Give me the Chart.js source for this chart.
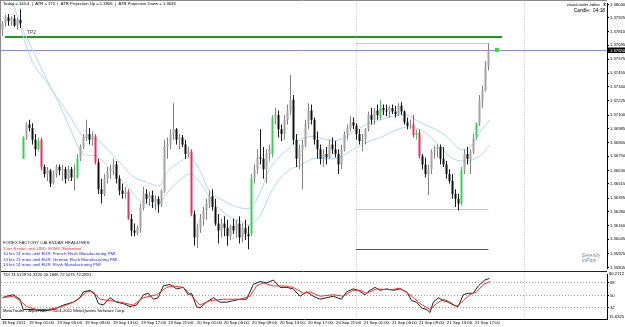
<!DOCTYPE html>
<html>
<head>
<meta charset="utf-8">
<title>EURUSD 18-21 Sep 2011</title>
<script src="https://cdn.jsdelivr.net/npm/chart.js@4.4.1/dist/chart.umd.min.js"></script>
<style>
  html, body { margin: 0; padding: 0; background: #fff; }
  #wrap { position: relative; width: 625px; height: 327px; overflow: hidden; background: #fff; }
  #mainChart { position: absolute; left: 0; top: 0; }
  #tdiChart { position: absolute; left: 0; top: 271px; }
</style>
</head>
<body>
<div id="wrap">
  <canvas id="mainChart" width="625" height="272"></canvas>
  <canvas id="tdiChart" width="625" height="56"></canvas>
</div>
<script>
// candles (one bar per slot)
const opens = [
  1.3783, 1.3788, 1.3793, 1.3790, 1.3792, 1.3786, 1.3791,
  1.3673, 1.3691, 1.3702, 1.3699, 1.3689, 1.3681, 1.3689,
  1.3666, 1.3660, 1.3663, 1.3652, 1.3660, 1.3666, 1.3663,
  1.3664, 1.3656, 1.3664, 1.3657, 1.3657, 1.3673, 1.3683,
  1.3691, 1.3694, 1.3689, 1.3692, 1.3670, 1.3647, 1.3643,
  1.3656, 1.3663, 1.3664, 1.3668, 1.3656, 1.3646, 1.3643,
  1.3645, 1.3622, 1.3612, 1.3610, 1.3614, 1.3631, 1.3643,
  1.3639, 1.3642, 1.3636, 1.3639, 1.3634, 1.3646, 1.3683,
  1.3685, 1.3694, 1.3698, 1.3689, 1.3691, 1.3685, 1.3677,
  1.3679, 1.3626, 1.3606, 1.3614, 1.3622, 1.3629, 1.3635,
  1.3641, 1.3632, 1.3618, 1.3612, 1.3618, 1.3614, 1.3607,
  1.3616, 1.3612, 1.3618, 1.3606, 1.3614, 1.3609, 1.3609,
  1.3656, 1.3664, 1.3674, 1.3673, 1.3664, 1.3677, 1.3677,
  1.3708, 1.3710, 1.3698, 1.3694, 1.3706, 1.3714, 1.3723,
  1.3689, 1.3673, 1.3681, 1.3685, 1.3702, 1.3714, 1.3706,
  1.3689, 1.3681, 1.3673, 1.3677, 1.3674, 1.3685, 1.3681,
  1.3677, 1.3668, 1.3681, 1.3694, 1.3699, 1.3704, 1.3701,
  1.3694, 1.3688, 1.3689, 1.3698, 1.3710, 1.3706, 1.3714,
  1.3708, 1.3716, 1.3714, 1.3713, 1.3716, 1.3713, 1.3711,
  1.3718, 1.3713, 1.3704, 1.3701, 1.3702, 1.3693, 1.3695,
  1.3675, 1.3668, 1.3660, 1.3664, 1.3679, 1.3681, 1.3683,
  1.3673, 1.3668, 1.3660, 1.3654, 1.3643, 1.3639, 1.3635,
  1.3663, 1.3677, 1.3673, 1.3679, 1.3691, 1.3703, 1.3723,
  1.3731, 1.3752
];
const highs = [
  1.3790, 1.3795, 1.3796, 1.3794, 1.3795, 1.3793, 1.3800,
  1.3692, 1.3704, 1.3706, 1.3703, 1.3694, 1.3691, 1.3691,
  1.3668, 1.3666, 1.3664, 1.3663, 1.3668, 1.3668, 1.3668,
  1.3666, 1.3667, 1.3666, 1.3668, 1.3677, 1.3685, 1.3694,
  1.3706, 1.3699, 1.3696, 1.3694, 1.3673, 1.3656, 1.3660,
  1.3666, 1.3668, 1.3673, 1.3671, 1.3659, 1.3652, 1.3649,
  1.3647, 1.3626, 1.3618, 1.3616, 1.3635, 1.3649, 1.3647,
  1.3645, 1.3646, 1.3642, 1.3641, 1.3647, 1.3689, 1.3691,
  1.3698, 1.3720, 1.3699, 1.3694, 1.3693, 1.3689, 1.3683,
  1.3681, 1.3629, 1.3618, 1.3626, 1.3632, 1.3639, 1.3646,
  1.3647, 1.3639, 1.3626, 1.3622, 1.3624, 1.3621, 1.3617,
  1.3622, 1.3621, 1.3624, 1.3618, 1.3621, 1.3616, 1.3660,
  1.3668, 1.3681, 1.3698, 1.3683, 1.3681, 1.3685, 1.3710,
  1.3716, 1.3714, 1.3702, 1.3710, 1.3719, 1.3744, 1.3727,
  1.3694, 1.3685, 1.3689, 1.3706, 1.3720, 1.3719, 1.3708,
  1.3696, 1.3685, 1.3681, 1.3683, 1.3689, 1.3691, 1.3688,
  1.3681, 1.3685, 1.3696, 1.3702, 1.3709, 1.3708, 1.3703,
  1.3698, 1.3694, 1.3699, 1.3713, 1.3716, 1.3716, 1.3719,
  1.3723, 1.3719, 1.3719, 1.3718, 1.3719, 1.3718, 1.3720,
  1.3721, 1.3714, 1.3708, 1.3706, 1.3710, 1.3698, 1.3698,
  1.3677, 1.3674, 1.3668, 1.3681, 1.3684, 1.3685, 1.3685,
  1.3683, 1.3671, 1.3664, 1.3660, 1.3647, 1.3643, 1.3666,
  1.3681, 1.3683, 1.3681, 1.3694, 1.3704, 1.3727, 1.3735,
  1.3756, 1.3771
];
const lows = [
  1.3777, 1.3785, 1.3786, 1.3786, 1.3785, 1.3783, 1.3784,
  1.3673, 1.3689, 1.3696, 1.3685, 1.3675, 1.3679, 1.3663,
  1.3657, 1.3654, 1.3649, 1.3651, 1.3657, 1.3659, 1.3654,
  1.3652, 1.3654, 1.3654, 1.3646, 1.3656, 1.3671, 1.3681,
  1.3688, 1.3685, 1.3684, 1.3668, 1.3643, 1.3635, 1.3641,
  1.3652, 1.3656, 1.3659, 1.3652, 1.3642, 1.3639, 1.3639,
  1.3621, 1.3607, 1.3607, 1.3608, 1.3610, 1.3629, 1.3635,
  1.3633, 1.3631, 1.3629, 1.3627, 1.3632, 1.3644, 1.3673,
  1.3681, 1.3689, 1.3685, 1.3681, 1.3683, 1.3673, 1.3674,
  1.3624, 1.3599, 1.3597, 1.3610, 1.3616, 1.3621, 1.3631,
  1.3629, 1.3616, 1.3601, 1.3606, 1.3607, 1.3599, 1.3604,
  1.3609, 1.3606, 1.3601, 1.3602, 1.3604, 1.3596, 1.3607,
  1.3652, 1.3660, 1.3668, 1.3656, 1.3652, 1.3671, 1.3674,
  1.3702, 1.3691, 1.3688, 1.3689, 1.3702, 1.3710, 1.3685,
  1.3666, 1.3664, 1.3647, 1.3683, 1.3698, 1.3702, 1.3685,
  1.3673, 1.3668, 1.3666, 1.3668, 1.3673, 1.3677, 1.3674,
  1.3660, 1.3664, 1.3679, 1.3689, 1.3696, 1.3698, 1.3689,
  1.3685, 1.3679, 1.3685, 1.3696, 1.3702, 1.3702, 1.3706,
  1.3706, 1.3710, 1.3709, 1.3708, 1.3711, 1.3708, 1.3709,
  1.3710, 1.3702, 1.3698, 1.3698, 1.3691, 1.3689, 1.3673,
  1.3664, 1.3657, 1.3642, 1.3660, 1.3673, 1.3674, 1.3668,
  1.3666, 1.3656, 1.3652, 1.3639, 1.3632, 1.3629, 1.3633,
  1.3660, 1.3668, 1.3660, 1.3677, 1.3689, 1.3701, 1.3716,
  1.3730, 1.3748
];
const closes = [
  1.3788, 1.3793, 1.3790, 1.3792, 1.3786, 1.3791, 1.3788,
  1.3691, 1.3702, 1.3699, 1.3689, 1.3681, 1.3688, 1.3666,
  1.3660, 1.3663, 1.3652, 1.3660, 1.3666, 1.3663, 1.3664,
  1.3656, 1.3664, 1.3657, 1.3659, 1.3673, 1.3683, 1.3691,
  1.3694, 1.3689, 1.3693, 1.3670, 1.3647, 1.3643, 1.3656,
  1.3663, 1.3664, 1.3668, 1.3656, 1.3646, 1.3643, 1.3645,
  1.3622, 1.3612, 1.3610, 1.3614, 1.3631, 1.3643, 1.3639,
  1.3642, 1.3636, 1.3639, 1.3634, 1.3646, 1.3683, 1.3685,
  1.3694, 1.3698, 1.3689, 1.3691, 1.3685, 1.3677, 1.3679,
  1.3626, 1.3606, 1.3614, 1.3622, 1.3629, 1.3635, 1.3641,
  1.3632, 1.3618, 1.3612, 1.3618, 1.3614, 1.3607, 1.3616,
  1.3612, 1.3618, 1.3606, 1.3614, 1.3609, 1.3607, 1.3656,
  1.3664, 1.3674, 1.3673, 1.3664, 1.3677, 1.3681, 1.3708,
  1.3710, 1.3698, 1.3694, 1.3706, 1.3714, 1.3723, 1.3689,
  1.3673, 1.3681, 1.3685, 1.3702, 1.3714, 1.3706, 1.3689,
  1.3681, 1.3673, 1.3677, 1.3674, 1.3685, 1.3681, 1.3677,
  1.3668, 1.3681, 1.3694, 1.3699, 1.3704, 1.3701, 1.3694,
  1.3688, 1.3689, 1.3698, 1.3710, 1.3706, 1.3714, 1.3710,
  1.3716, 1.3714, 1.3713, 1.3716, 1.3713, 1.3711, 1.3718,
  1.3713, 1.3704, 1.3701, 1.3702, 1.3693, 1.3695, 1.3675,
  1.3668, 1.3660, 1.3664, 1.3679, 1.3681, 1.3683, 1.3673,
  1.3668, 1.3660, 1.3654, 1.3643, 1.3639, 1.3635, 1.3663,
  1.3677, 1.3673, 1.3679, 1.3691, 1.3703, 1.3723, 1.3731,
  1.3752, 1.3765
];
// bars painted by the signal indicator
const upSignals = [7, 12, 25, 83, 90, 126, 138, 153, 158];
const downSignals = [13, 31, 42, 63, 137, 139];

// light blue channel lines: [bar, price]
const upperBand = [
  [3.5, 1.3806], [9.8, 1.3756], [14.2, 1.3740], [18.2, 1.3725], [22.5, 1.3709], [26.8, 1.3692],
  [31.5, 1.3689], [35, 1.3681], [39, 1.3670], [43.5, 1.3658], [48, 1.3653], [52.5, 1.3650],
  [55, 1.3662], [59, 1.3670], [62.5, 1.3674], [66, 1.3662], [69, 1.3645], [72.5, 1.3639],
  [77, 1.3633], [82.5, 1.3631], [86, 1.3645], [89, 1.3664], [92.5, 1.3675], [96, 1.3683],
  [99, 1.3689], [103.5, 1.3692], [108, 1.3689], [112.5, 1.3689], [117, 1.3696], [121.5, 1.3702],
  [126, 1.3706], [130, 1.3709], [134.8, 1.3710], [139, 1.3704], [143.5, 1.3699], [148, 1.3692],
  [152.5, 1.3681], [156, 1.3683], [159, 1.3695], [162.5, 1.3706]
];
const lowerBand = [
  [6.5, 1.3784], [11.8, 1.3756], [15.8, 1.3735], [19.2, 1.3718], [22.5, 1.3699], [26.8, 1.3677],
  [31.5, 1.3675], [36, 1.3664], [41.5, 1.3650], [46, 1.3637], [51.5, 1.3633], [53.5, 1.3639],
  [57, 1.3650], [62.5, 1.3660], [66, 1.3652], [70, 1.3637], [74.8, 1.3625], [79, 1.3620],
  [82.5, 1.3617], [86, 1.3625], [89, 1.3642], [92.5, 1.3656], [96, 1.3664], [99, 1.3667],
  [103.5, 1.3673], [108, 1.3673], [112.5, 1.3674], [117, 1.3681], [121.5, 1.3687], [126, 1.3691],
  [130, 1.3696], [134.8, 1.3700], [138, 1.3699], [141.5, 1.3694], [146, 1.3683], [150, 1.3673],
  [154.8, 1.3671], [159, 1.3675], [162.5, 1.3685]
];

// TDI sub-window: [bar, value]
const tdiPrice = [
  [0, 46.6], [1.4, 48.7], [3.6, 50.9], [5.8, 44.4], [6.9, 29.4], [10.3, 29.4], [13.6, 27.3],
  [17, 29.4], [20.3, 35.9], [23.6, 40.1], [25.8, 46.6], [27, 55.1], [29.2, 57.3], [30.8, 50.9],
  [32, 38], [33.6, 35.9], [35.8, 46.6], [38, 40.1], [40.3, 38], [42.5, 33.7], [44.7, 35.9],
  [47, 50.9], [48.6, 53], [50.3, 44.4], [51.9, 46.6], [53.6, 63.7], [55.8, 65.9], [58, 59.4],
  [60.3, 61.6], [61.9, 50.9], [63, 53], [64.7, 33.7], [65.8, 31.6], [68, 40.1], [70.3, 46.6],
  [72.5, 40.1], [74.7, 40.1], [77, 42.3], [79.2, 44.4], [81.4, 44.4], [83.6, 65.9], [85.8, 70.1],
  [88, 68], [90.3, 72.3], [92.5, 61.6], [94.7, 61.6], [96.9, 59.4], [99.2, 48.7], [101.4, 55.1],
  [103.6, 48.7], [105.8, 44.4], [108.1, 46.6], [110.3, 48.7], [113, 44.4], [114.7, 55.1],
  [116.9, 59.4], [118.6, 57.3], [120.8, 50.9], [122.5, 57.3], [124.2, 61.6], [125.8, 57.3],
  [128.1, 59.4], [130.3, 57.3], [132.5, 59.4], [134.7, 55.1], [136.4, 42.3], [138, 40.1],
  [139.7, 31.6], [141.4, 29.4], [142.5, 25.1], [143.6, 40.1], [145.3, 46.6], [146.9, 42.3],
  [148.6, 40.1], [150.3, 35.9], [151.9, 33.7], [153.6, 50.9], [155.3, 53], [156.9, 53],
  [158.6, 63.7], [160.8, 72.3], [162.3, 74.5]
];
const tdiSignal = [
  [0, 46.6], [3.6, 48.7], [5.8, 42.3], [8.1, 33.7], [11.4, 29.4], [14.7, 29.4], [18.1, 31.6],
  [21.4, 35.9], [24.7, 42.3], [28.1, 55.1], [30.3, 55.1], [32.5, 44.4], [35.8, 42.3], [39.2, 40.1],
  [43.6, 35.9], [47, 46.6], [51.4, 50.9], [54.7, 61.6], [56.9, 63.7], [60.3, 61.6], [63.6, 46.6],
  [65.8, 35.9], [69.2, 42.3], [73.6, 44.4], [79.2, 44.4], [82.5, 48.7], [84.7, 63.7], [86.9, 68],
  [90.3, 63.7], [93.6, 63.7], [96.9, 61.6], [100.3, 53], [102.5, 55.1], [105.8, 48.7], [110.3, 50.9],
  [113.6, 48.7], [116.9, 57.3], [119.2, 57.3], [121.4, 53], [124.7, 59.4], [129.2, 58.1],
  [132.5, 60.3], [135.8, 50.9], [139.2, 38], [142.5, 29.4], [144.7, 38], [147, 44.4], [149.2, 40.1],
  [151.4, 33.7], [153.6, 42.3], [155.8, 50.9], [158.1, 55.1], [160.3, 65.9], [162.5, 70.1]
];

const priceTicks = [1.38040, 1.37925, 1.37810, 1.37695, 1.37575, 1.37455, 1.37340, 1.37225,
  1.37100, 1.36985, 1.36865, 1.36750, 1.36630, 1.36515, 1.36395, 1.36280, 1.36160, 1.36045,
  1.35925, 1.35805];
const tdiLevels = [68, 50, 32];
const tdiRange = [15.6325, 80.2712];
const timeLabels = ['18 Sep 2011', '19 Sep 01:00', '19 Sep 05:00', '19 Sep 09:00', '19 Sep 13:00',
  '19 Sep 17:00', '19 Sep 21:00', '20 Sep 01:00', '20 Sep 05:00', '20 Sep 09:00', '20 Sep 13:00',
  '20 Sep 17:00', '20 Sep 21:00', '21 Sep 01:00', '21 Sep 05:00', '21 Sep 09:00', '21 Sep 13:00',
  '21 Sep 17:00'];
const timeTickBars = [-0.2, 8.8, 18.2, 27.5, 36.8, 46.2, 55.2, 64.8, 73.8, 83.2, 92.5, 101.8,
  111.2, 120.5, 129.8, 138.8, 148.2, 157.5];
const separatorBars = [117.8, 173.8];   // day breaks
const tpLevel = 1.3776;
const todayHigh = 1.3771;
const todayLow = 1.3630;
const lowLevel = 1.3596;

const headlines = [
  ['FOREX FACTORY CALENDAR HEADLINES:', '#1a1a1a'],
  ['1 hrs 6 mins until USD: FOMC Statement', '#ff1a1a'],
  ['10 hrs 51 mins until EUR: French Flash Manufacturing PMI', '#2323d8'],
  ['14 hrs 21 mins until EUR: German Flash Manufacturing PMI', '#2323d8'],
  ['14 hrs 51 mins until EUR: Flash Manufacturing PMI', '#2323d8']
];

const FONT = '"Liberation Sans", Arial, sans-serif';
Chart.defaults.font.family = FONT;

const lastBar = closes.length - 1;
const X_MIN = -0.5, X_MAX = 201.5;

function candleColor(i, part) {
  if (upSignals.includes(i)) return '#33d452';
  if (downSignals.includes(i)) return '#e8305a';
  const bull = closes[i] >= opens[i];
  if (part === 'wick') return bull ? '#808080' : '#1a1a1a';
  return bull ? '#a4a4a4' : '#111111';
}

function hline(ctx, x1, x2, y, color, w) {
  ctx.strokeStyle = color;
  ctx.lineWidth = w || 1;
  ctx.beginPath();
  ctx.moveTo(x1, y);
  ctx.lineTo(x2, y);
  ctx.stroke();
}

function text(ctx, str, x, y, color, size, align, weight) {
  ctx.font = (weight || '') + ' ' + size + 'px ' + FONT;
  ctx.fillStyle = color;
  ctx.textAlign = align || 'left';
  ctx.textBaseline = 'middle';
  ctx.fillText(str, x, y);
}

const crisp = v => Math.round(v) + 0.5;

const mainOverlay = {
  id: 'mainOverlay',
  beforeDatasetsDraw(chart) {
    const { ctx, chartArea: a, scales: { x, y } } = chart;
    ctx.save();
    // day separators
    ctx.setLineDash([1, 2]);
    separatorBars.forEach(b => {
      const px = crisp(x.getPixelForValue(b));
      ctx.strokeStyle = '#b8b8b8';
      ctx.lineWidth = 1;
      ctx.beginPath();
      ctx.moveTo(px, a.top);
      ctx.lineTo(px, a.bottom);
      ctx.stroke();
    });
    ctx.setLineDash([]);
    const dayStart = x.getPixelForValue(separatorBars[0]);
    const dayEnd = x.getPixelForValue(lastBar);
    hline(ctx, dayStart, dayEnd, crisp(y.getPixelForValue(todayHigh)), '#c8c8c8');
    hline(ctx, dayStart, dayEnd, crisp(y.getPixelForValue(todayLow)), '#c8c8c8');
    hline(ctx, dayStart, dayEnd, crisp(y.getPixelForValue(lowLevel)), '#555555');
    // bid line and take profit
    hline(ctx, a.left - 1, a.right, crisp(y.getPixelForValue(closes[lastBar])), '#8b8bd6');
    hline(ctx, x.getPixelForValue(0.8), x.getPixelForValue(166.5), Math.round(y.getPixelForValue(tpLevel)), '#1f9a1f', 2);
    ctx.restore();
  },
  afterDraw(chart) {
    const { ctx, chartArea: a, scales: { x, y } } = chart;
    ctx.save();
    // frame
    hline(ctx, 0, a.right, 0.5, '#8a8a8a');
    ctx.strokeStyle = '#8a8a8a';
    ctx.beginPath(); ctx.moveTo(0.5, 0); ctx.lineTo(0.5, 272); ctx.stroke();
    hline(ctx, 0, a.right, 271.5, '#222');

    // bid marker
    const bidY = y.getPixelForValue(closes[lastBar]);
    ctx.fillStyle = '#2ee62e';
    ctx.fillRect(Math.round(x.getPixelForValue(164.8)) - 2, Math.round(bidY) - 2, 4, 4);
    ctx.fillStyle = '#000';
    ctx.fillRect(a.right + 1, Math.round(bidY) - 2.5, 625 - a.right - 1, 5.5);
    text(ctx, closes[lastBar].toFixed(5), a.right + 3, bidY + 0.3, '#fff', 4.2);

    text(ctx, 'TP2', 27, 32.5, '#444', 4.8);
    text(ctx, 'Today = 144.4  |  ATR = 170  |  ATR Projection Up = 1.3806  |  ATR Projection Down = 1.3636', 3, 4.3, '#000', 4.2);
    text(ctx, 'visual order editor', 600, 5, '#000', 4.2, 'right');
    text(ctx, 'x', 604.5, 4.8, '#000', 4.6, 'center', 'bold');
    text(ctx, 'Candle:  04:18', 605, 11, '#000', 4.8, 'right');

    headlines.forEach((h, k) => text(ctx, h[0], 3, 243.3 + k * 5.45, h[1], 4.3));

    text(ctx, 'Serenity', 591, 255.5, '#7787a6', 5, 'center', 'italic');
    text(ctx, 'InPips', 589, 260.5, '#7787a6', 5.2, 'center', 'italic');
    ctx.restore();
  }
};

const bars = opens.map((_, i) => i);

new Chart(document.getElementById('mainChart'), {
  type: 'bar',
  data: {
    datasets: [
      {
        type: 'line',
        data: upperBand.map(p => ({ x: p[0], y: p[1] })),
        borderColor: '#aed7f3',
        borderWidth: 1,
        pointRadius: 0,
        tension: 0.3,
        order: 3
      },
      {
        type: 'line',
        data: lowerBand.map(p => ({ x: p[0], y: p[1] })),
        borderColor: '#aed7f3',
        borderWidth: 1,
        pointRadius: 0,
        tension: 0.3,
        order: 3
      },
      {
        data: bars.map(i => ({ x: i, y: [lows[i], highs[i]] })),
        backgroundColor: bars.map(i => candleColor(i, 'wick')),
        barThickness: 1,
        grouped: false,
        inflateAmount: 0,
        order: 2
      },
      {
        data: bars.map(i => ({ x: i, y: [opens[i], closes[i]] })),
        backgroundColor: bars.map(i => candleColor(i, 'body')),
        barThickness: 2,
        minBarLength: 1,
        grouped: false,
        inflateAmount: 0,
        order: 1
      }
    ]
  },
  options: {
    responsive: false,
    animation: false,
    layout: { padding: { left: 1, top: 2, right: 0, bottom: 1 } },
    plugins: { legend: { display: false }, tooltip: { enabled: false } },
    scales: {
      x: { type: 'linear', min: X_MIN, max: X_MAX, offset: false, display: false },
      y: {
        position: 'right',
        min: 1.35797,
        max: 1.38048,
        afterBuildTicks: s => { s.ticks = priceTicks.map(v => ({ value: v })); },
        afterFit: s => { s.width = 18; },
        ticks: { autoSkip: false, color: '#000', padding: 1, font: { size: 4.2 }, callback: v => v.toFixed(5) },
        grid: { drawOnChartArea: false, tickLength: 2, color: '#000' },
        border: { color: '#000' }
      }
    }
  },
  plugins: [mainOverlay]
});

const tdiOverlay = {
  id: 'tdiOverlay',
  beforeDatasetsDraw(chart) {
    const { ctx, chartArea: a, scales: { x } } = chart;
    ctx.save();
    ctx.setLineDash([1, 2]);
    ctx.strokeStyle = '#b8b8b8';
    ctx.lineWidth = 1;
    separatorBars.forEach(b => {
      const px = crisp(x.getPixelForValue(b));
      ctx.beginPath();
      ctx.moveTo(px, a.top);
      ctx.lineTo(px, a.bottom);
      ctx.stroke();
    });
    ctx.restore();
  },
  afterDraw(chart) {
    const { ctx, chartArea: a } = chart;
    ctx.save();
    ctx.strokeStyle = '#8a8a8a';
    ctx.beginPath(); ctx.moveTo(0.5, 0); ctx.lineTo(0.5, a.bottom); ctx.stroke();
    text(ctx, 'TDI 74.5129 51.3320 20.1846 72.1075 72.2891', 3, 4.2, '#000', 4.2);
    text(ctx, 'MetaTrader - Alpari UK, \u00a9 2001-2011 MetaQuotes Software Corp.', 3, 40.3, '#000', 4.2);
    text(ctx, tdiRange[1].toFixed(4), a.right + 2, 2.6, '#000', 4.2);
    text(ctx, tdiRange[0].toFixed(4), a.right + 2, a.bottom - 2, '#000', 4.2);
    ctx.restore();
  }
};

new Chart(document.getElementById('tdiChart'), {
  type: 'line',
  data: {
    datasets: [
      {
        data: tdiSignal.map(p => ({ x: p[0], y: p[1] })),
        borderColor: '#ff2b2b',
        borderWidth: 1,
        pointRadius: 0
      },
      {
        data: tdiPrice.map(p => ({ x: p[0], y: p[1] })),
        borderColor: '#1e1e1e',
        borderWidth: 1,
        pointRadius: 0
      }
    ]
  },
  options: {
    responsive: false,
    animation: false,
    layout: { padding: { left: 1, top: 0, right: 0, bottom: 0 } },
    plugins: { legend: { display: false }, tooltip: { enabled: false } },
    scales: {
      x: {
        type: 'linear', min: X_MIN, max: X_MAX, offset: false,
        afterBuildTicks: s => { s.ticks = timeTickBars.map(v => ({ value: v })); },
        afterFit: s => { s.height = 8; },
        ticks: {
          autoSkip: false, align: 'start', maxRotation: 0, minRotation: 0,
          color: '#000', padding: 0, font: { size: 4.2 },
          callback: (v, i) => timeLabels[i]
        },
        grid: { drawOnChartArea: false, tickLength: 1, color: '#000' },
        border: { color: '#000' }
      },
      y: {
        position: 'right', min: tdiRange[0], max: tdiRange[1],
        afterBuildTicks: s => { s.ticks = tdiLevels.map(v => ({ value: v })); },
        afterFit: s => { s.width = 18; },
        ticks: { autoSkip: false, color: '#000', padding: 1, font: { size: 4.2 }, callback: v => String(v) },
        grid: { color: '#9c9c9c', tickLength: 2, tickColor: '#000' },
        border: { color: '#000', dash: [1, 2] }
      }
    }
  },
  plugins: [tdiOverlay]
});
</script>
</body>
</html>
